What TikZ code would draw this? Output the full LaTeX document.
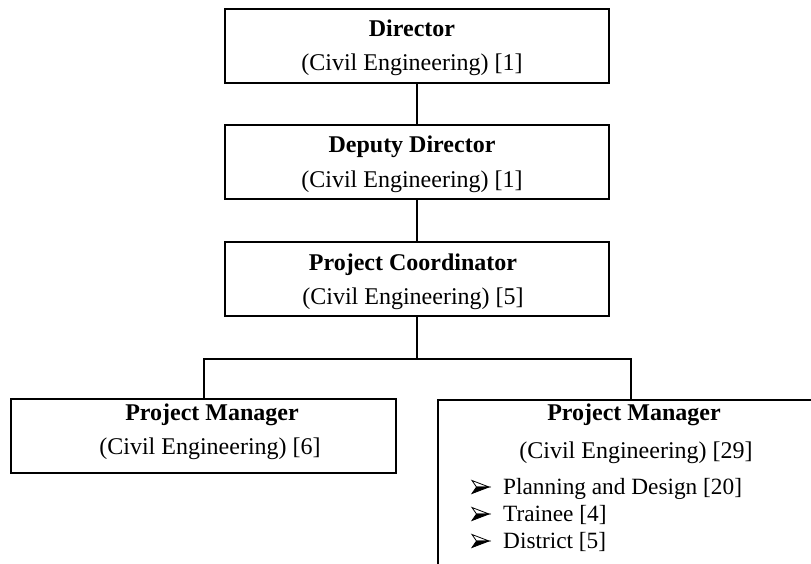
\documentclass[tikz,border=0pt]{standalone}
\usepackage{fontspec}
\usetikzlibrary{calc}
\setmainfont{Liberation Serif}
\begin{document}
\begin{tikzpicture}[x=1pt,y=-1pt,
  orgbox/.style={draw=black,line width=2pt,fill=white,inner sep=0pt,
    minimum width=384pt,minimum height=74pt},
  link/.style={draw=black,line width=2pt},
  lbl/.style={anchor=base,inner sep=0pt,font=\fontsize{24}{28}\selectfont},
  head/.style={lbl,font=\fontsize{24}{28}\selectfont\bfseries},
  item/.style={anchor=base west,inner sep=0pt,font=\fontsize{23.3}{28}\selectfont},
  arrowbullet/.pic={
    \filldraw[fill=white,draw=black,line width=0.8pt,line join=miter]
      (0,-6.5) -- (17,0) -- (4.5,0) -- cycle;
    \filldraw[fill=black,draw=black,line width=0.8pt,line join=miter]
      (4.5,0) -- (17,0) -- (0,6.5) -- cycle;
  }]
\useasboundingbox (0,0) rectangle (811,564);
\clip (0,0) rectangle (811,564);
\fill[white] (0,0) rectangle (811,564);

% boxes
\node[orgbox] (dir)   at (417,46.5)  {};
\node[orgbox] (dep)   at (417,162.5) {};
\node[orgbox] (coord) at (417,279)   {};
\node[orgbox,minimum width=385pt] (pmL) at (203.5,436) {};
\node[orgbox,minimum width=385pt,minimum height=200pt] (pmR) at (630.5,500) {};

% connectors
\draw[link] (dir.south) -- (dep.north);
\draw[link] (dep.south) -- (coord.north);
\coordinate (bus) at ($(coord.south)+(0,42)$);
\draw[link] (coord.south) -- (bus);
\draw[link] (pmL.north) |- (bus) -| (pmR.north);

% texts
\node[head] (t1a) at (412,37)  {Director};
\node[lbl]  (t1b) at (412,71)  {(Civil Engineering) [1]};
\node[head] (t2a) at (412,153) {Deputy Director};
\node[lbl]  (t2b) at (412,188) {(Civil Engineering) [1]};
\node[head] (t3a) at (413,270) {Project Coordinator};
\node[lbl]  (t3b) at (413,304) {(Civil Engineering) [5]};
\node[head] (t4a) at (212,420) {Project Manager};
\node[lbl]  (t4b) at (210,454) {(Civil Engineering) [6]};
\node[head] (t5a) at (634,420) {Project Manager};
\node[lbl]  (t5b) at (636,458) {(Civil Engineering) [29]};

\pic at (472,487) {arrowbullet};
\node[item] (i1) at (503,494) {Planning and Design [20]};
\pic at (472,514) {arrowbullet};
\node[item] (i2) at (503,521) {Trainee [4]};
\pic at (472,541) {arrowbullet};
\node[item] (i3) at (503,548) {District [5]};
\end{tikzpicture}
\end{document}
